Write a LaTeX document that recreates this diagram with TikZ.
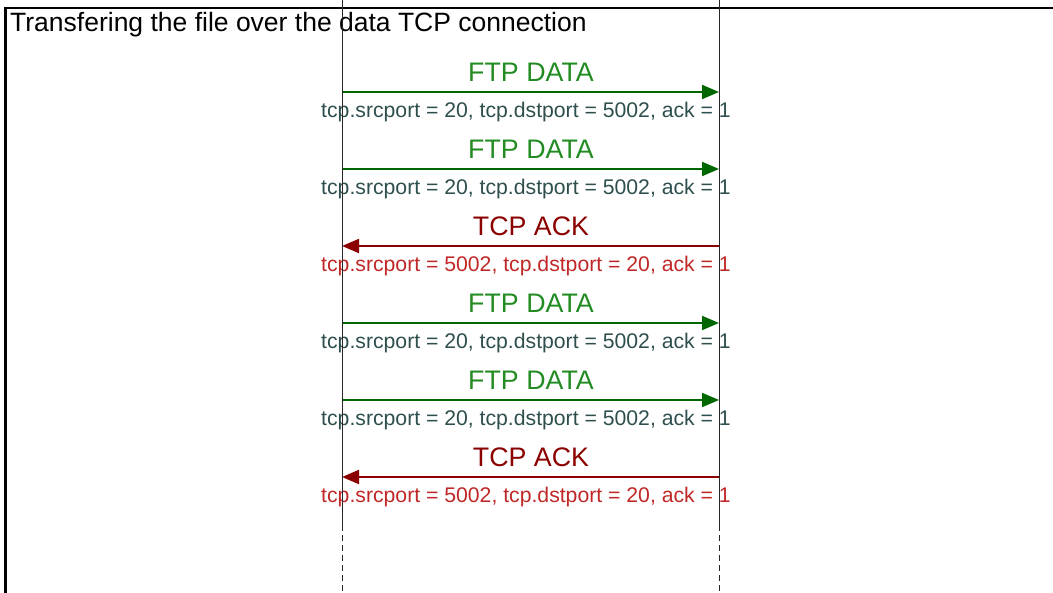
\documentclass[tikz,border=0pt]{standalone}
\usepackage{fontspec}
\setmainfont{Liberation Sans}
\usetikzlibrary{arrows.meta}
\definecolor{ftpgreen}{HTML}{006600}
\definecolor{ftplabel}{HTML}{228B22}
\definecolor{ftpsub}{HTML}{2F4F4F}
\definecolor{ackred}{HTML}{8B0000}
\definecolor{acksub}{HTML}{C02828}
\begin{document}
\begin{tikzpicture}[x=1pt,y=-1pt,
 lifeline/.style={draw=black!85, line width=1pt},
 lifedash/.style={lifeline, dash pattern=on 6pt off 4pt},
 msg/.style={line width=2pt, -{Triangle[length=17pt,width=14pt]}},
 lbl/.style={anchor=base, inner sep=0pt, font=\fontsize{26.8}{30}\selectfont},
 sub/.style={anchor=base, inner sep=0pt, font=\fontsize{21.2}{26}\selectfont},
 ftpmsg/.style={msg, draw=ftpgreen, fill=ftpgreen},
 ackmsg/.style={msg, draw=ackred, fill=ackred},
]
\useasboundingbox (0,0) rectangle (1053,593);
% frame
\coordinate (fbl) at (5.5,600);
\coordinate (ftl) at (5.5,8);
\coordinate (ftr) at (1060,8);
\draw[line width=2.5pt] (fbl) -- (ftl) -- (ftr);
\node[anchor=base west, inner sep=0pt, font=\fontsize{26.5}{30}\selectfont] (title) at (10,31.7) {Transfering the file over the data TCP connection};
% lifeline coordinates
\coordinate (Lt) at (342,0);
\coordinate (Lm) at (342,525);
\coordinate (Lb) at (342,593);
\coordinate (Rt) at (719,0);
\coordinate (Rm) at (719,525);
\coordinate (Rb) at (719,593);
% message end points
\foreach \k in {0,...,5}{
  \coordinate (a\k) at (342,{92+77*\k});
  \coordinate (b\k) at (719,{92+77*\k});
}
% messages
\draw[ftpmsg] (a0) -- (b0);
\node[lbl, text=ftplabel] (l0) at (531,81.5) {FTP DATA};
\node[sub, text=ftpsub] (s0) at (526,117.5) {tcp.srcport = 20, tcp.dstport = 5002, ack = 1};
\draw[ftpmsg] (a1) -- (b1);
\node[lbl, text=ftplabel] (l1) at (531,158.5) {FTP DATA};
\node[sub, text=ftpsub] (s1) at (526,194.5) {tcp.srcport = 20, tcp.dstport = 5002, ack = 1};
\draw[ackmsg] (b2) -- (a2);
\node[lbl, text=ackred] (l2) at (531,235.5) {TCP ACK};
\node[sub, text=acksub] (s2) at (526,271.5) {tcp.srcport = 5002, tcp.dstport = 20, ack = 1};
\draw[ftpmsg] (a3) -- (b3);
\node[lbl, text=ftplabel] (l3) at (531,312.5) {FTP DATA};
\node[sub, text=ftpsub] (s3) at (526,348.5) {tcp.srcport = 20, tcp.dstport = 5002, ack = 1};
\draw[ftpmsg] (a4) -- (b4);
\node[lbl, text=ftplabel] (l4) at (531,389.5) {FTP DATA};
\node[sub, text=ftpsub] (s4) at (526,425.5) {tcp.srcport = 20, tcp.dstport = 5002, ack = 1};
\draw[ackmsg] (b5) -- (a5);
\node[lbl, text=ackred] (l5) at (531,466.5) {TCP ACK};
\node[sub, text=acksub] (s5) at (526,502.5) {tcp.srcport = 5002, tcp.dstport = 20, ack = 1};
% lifelines
\draw[lifeline] (Lt) -- (Lm);
\draw[lifedash] (Lm) -- (Lb);
\draw[lifeline] (Rt) -- (Rm);
\draw[lifedash] (Rm) -- (Rb);
\end{tikzpicture}
\end{document}
